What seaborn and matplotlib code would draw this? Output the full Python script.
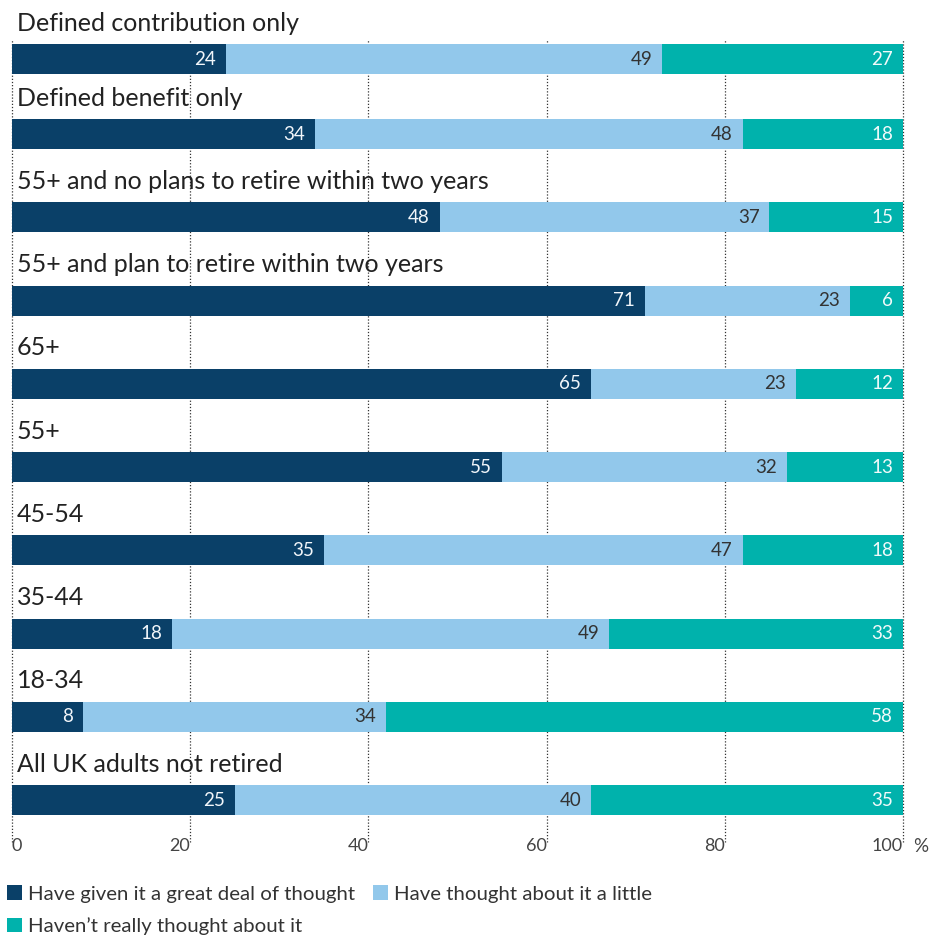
import matplotlib
matplotlib.use("Agg")
import matplotlib.pyplot as plt
import seaborn as sns
import pandas as pd
import numpy as np
from matplotlib.patches import Patch

categories = [
    "Defined contribution only",
    "Defined benefit only",
    "55+ and no plans to retire within two years",
    "55+ and plan to retire within two years",
    "65+",
    "55+",
    "45-54",
    "35-44",
    "18-34",
    "All UK adults not retired",
]
great_deal = [24, 34, 48, 71, 65, 55, 35, 18, 8, 25]
a_little = [49, 48, 37, 23, 23, 32, 47, 49, 34, 40]
not_really = [27, 18, 15, 6, 12, 13, 18, 33, 58, 35]
series_names = [
    "Have given it a great deal of thought",
    "Have thought about it a little",
    "Haven\u2019t really thought about it",
]
colors = ["#0A4068", "#92C8EB", "#00B2AC"]
label_colors = ["#F2F6FA", "#333333", "#F2FAFA"]
xticks = [0, 20, 40, 60, 80, 100]

# layout: row slots (first row sits a little closer to the second)
pitch = 83.25
row_pos = [1 - 75 / pitch] + list(range(1, 10))

sns.set_theme(style="white")
plt.rcParams["font.family"] = ["Lato", "DejaVu Sans"]

df = pd.DataFrame({
    "category": categories,
    "row": row_pos,
    "s1": great_deal,
    "s2": a_little,
    "s3": not_really,
})
df["c1"] = df["s1"]
df["c2"] = df["s1"] + df["s2"]
df["c3"] = df["s1"] + df["s2"] + df["s3"]

fig = plt.figure(figsize=(9.44, 9.38), dpi=100)
ax = fig.add_axes([12 / 944, 1 - 828 / 938, 891 / 944, (828 - 40) / 938])

min_gap = min(np.diff(row_pos))
for col, c in zip(["c3", "c2", "c1"], colors[::-1]):
    sns.barplot(data=df, x=col, y="row", orient="h", native_scale=True,
                color=c, width=(30 / pitch) / min_gap, saturation=1, ax=ax,
                zorder=3, linewidth=0)

ax.set_xlim(0, 100)
ax.set_ylim(9 + 28 / pitch, row_pos[0] - 19 / pitch)

for x in xticks:
    ax.axvline(x, color="#333333", linestyle=(0, (1, 1.5)), linewidth=0.9,
               zorder=1, ymin=-0.018, clip_on=False)

for spine in ax.spines.values():
    spine.set_visible(False)

ax.set_ylabel("")
ax.set_xlabel("")
ax.set_yticks([])
ax.set_xticks(xticks)
ax.set_xticklabels([str(t) for t in xticks], fontsize=13, color="#444444")
ax.tick_params(axis="x", length=0, pad=7)
for t, lab in zip(xticks, ax.get_xticklabels()):
    if t == 0:
        lab.set_ha("left")
    else:
        lab.set_ha("right")
ax.annotate("%", xy=(100, 0), xycoords=("data", "axes fraction"),
            xytext=(7, -7), textcoords="offset points", ha="left", va="top",
            fontsize=13.5, color="#444444")

pad = 1.1
for i, cat in enumerate(categories):
    y = df["row"][i]
    ax.text(0.55, y - 36 / pitch, cat, ha="left", va="center", fontsize=18,
            color="#222222", clip_on=False)
    ends = [df["c1"][i], df["c2"][i], df["c3"][i]]
    vals = [df["s1"][i], df["s2"][i], df["s3"][i]]
    for e, v, lc in zip(ends, vals, label_colors):
        ax.text(e - pad, y, str(v), ha="right", va="center", fontsize=13.5,
                color=lc, zorder=5)

handles = [Patch(facecolor=c, edgecolor="none") for c in colors]
order = [0, 2, 1]
fig.legend([handles[k] for k in order], [series_names[k] for k in order],
           loc="upper left", bbox_to_anchor=(7 / 944, 1 - 885 / 938),
           ncol=2, frameon=False, fontsize=14.7, borderpad=0,
           borderaxespad=0, handlelength=0.75, handleheight=0.75,
           handletextpad=0.3, columnspacing=0.85, labelspacing=0.72,
           labelcolor="#333333")

fig.savefig("out.png", dpi=100)
